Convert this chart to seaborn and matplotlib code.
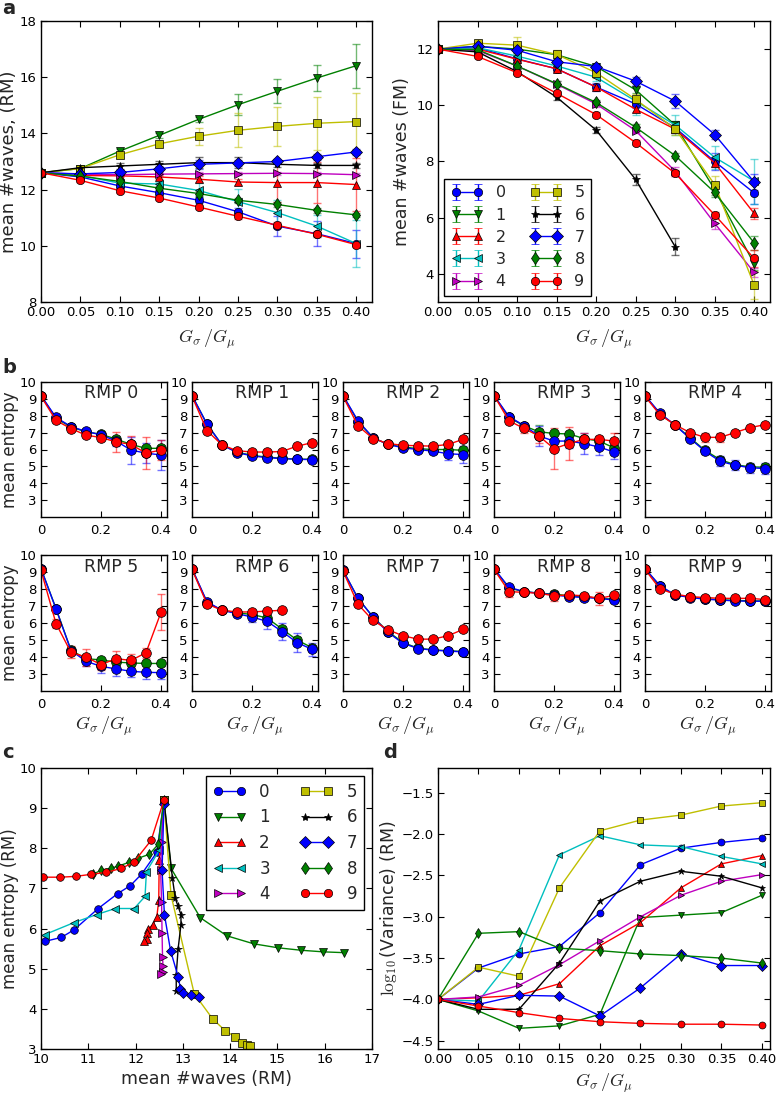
import matplotlib
matplotlib.use("Agg")
import matplotlib.pyplot as plt
from matplotlib.lines import Line2D
import seaborn as sns
import numpy as np
import pandas as pd

# x axis shared by panels a, b, d
G = [0.0, 0.05, 0.10, 0.15, 0.20, 0.25, 0.30, 0.35, 0.40]
NAMES = [str(i) for i in range(10)]

# panel a (left): mean #waves, RM ; one row per RMP 0..9
waves_rm = [
    [12.6, 12.45, 12.13, 11.89, 11.62, 11.21, 10.70, 10.43, 10.08],
    [12.6, 12.75, 13.37, 13.93, 14.50, 15.02, 15.50, 15.97, 16.41],
    [12.6, 12.50, 12.49, 12.45, 12.37, 12.27, 12.25, 12.25, 12.18],
    [12.6, 12.50, 12.23, 12.20, 11.97, 11.57, 11.18, 10.70, 10.08],
    [12.6, 12.55, 12.53, 12.55, 12.56, 12.57, 12.58, 12.57, 12.53],
    [12.6, 12.75, 13.24, 13.63, 13.90, 14.11, 14.25, 14.36, 14.42],
    [12.6, 12.78, 12.84, 12.90, 12.96, 12.96, 12.90, 12.86, 12.86],
    [12.6, 12.56, 12.61, 12.74, 12.90, 12.95, 13.00, 13.17, 13.34],
    [12.6, 12.48, 12.29, 12.05, 11.86, 11.62, 11.47, 11.26, 11.10],
    [12.6, 12.33, 11.96, 11.70, 11.38, 11.05, 10.73, 10.41, 10.04],
]
waves_rm_err = [
    [0, 0.05, 0.08, 0.08, 0.10, 0.12, 0.35, 0.45, 0.50],
    [0, 0.05, 0.08, 0.10, 0.10, 0.38, 0.42, 0.45, 0.78],
    [0, 0.05, 0.05, 0.08, 0.10, 0.10, 0.70, 0.72, 0.95],
    [0, 0.05, 0.05, 0.08, 0.25, 0.45, 0.45, 0.40, 0.85],
    [0, 0.05, 0.05, 0.05, 0.05, 0.05, 0.05, 0.05, 0.05],
    [0, 0.05, 0.10, 0.10, 0.30, 0.60, 0.70, 0.95, 1.00],
    [0, 0.05, 0.10, 0.10, 0.20, 0.20, 0.10, 0.10, 0.10],
    [0, 0.05, 0.10, 0.10, 0.15, 0.10, 0.10, 0.10, 0.10],
    [0, 0.05, 0.05, 0.05, 0.08, 0.08, 0.08, 0.08, 0.08],
    [0, 0.05, 0.08, 0.08, 0.08, 0.10, 0.10, 0.10, 0.10],
]

# panel a (right): mean #waves, FM
waves_fm = [
    [12.0, 12.05, 11.65, 11.30, 10.65, 10.05, 9.20, 8.00, 6.88],
    [12.0, 12.10, 12.00, 11.80, 11.38, 10.55, 9.30, 7.00, 4.35],
    [12.0, 12.00, 11.64, 11.30, 10.65, 9.86, 9.15, 7.95, 6.15],
    [12.0, 12.05, 11.75, 11.40, 11.00, 10.15, 9.30, 8.15, 7.30],
    [12.0, 11.95, 11.40, 10.75, 10.05, 9.10, 7.65, 5.80, 4.05],
    [12.0, 12.21, 12.14, 11.81, 11.16, 10.21, 9.16, 7.18, 3.60],
    [12.0, 11.90, 11.20, 10.29, 9.12, 7.36, 4.97, np.nan, np.nan],
    [12.0, 12.10, 11.96, 11.55, 11.38, 10.86, 10.15, 8.96, 7.27],
    [12.0, 11.98, 11.40, 10.77, 10.10, 9.22, 8.21, 6.90, 5.10],
    [12.0, 11.74, 11.16, 10.43, 9.67, 8.67, 7.58, 6.10, 4.55],
]
waves_fm_err = [
    [0, 0.05, 0.10, 0.10, 0.15, 0.15, 0.20, 0.30, 0.40],
    [0, 0.05, 0.10, 0.10, 0.10, 0.10, 0.15, 0.20, 0.20],
    [0, 0.05, 0.10, 0.10, 0.10, 0.10, 0.15, 0.15, 0.20],
    [0, 0.05, 0.10, 0.10, 0.15, 0.50, 0.35, 0.40, 0.80],
    [0, 0.05, 0.10, 0.10, 0.10, 0.10, 0.15, 0.20, 0.15],
    [0, 0.10, 0.30, 0.15, 0.20, 0.20, 0.20, 0.30, 0.50],
    [0, 0.05, 0.10, 0.10, 0.10, 0.20, 0.30, np.nan, np.nan],
    [0, 0.05, 0.10, 0.10, 0.10, 0.15, 0.25, 0.15, 0.30],
    [0, 0.05, 0.10, 0.10, 0.10, 0.10, 0.10, 0.15, 0.25],
    [0, 0.05, 0.05, 0.08, 0.08, 0.08, 0.10, 0.10, 0.30],
]

# panel b: mean entropy per RMP, three conditions (blue / green / red)
ent_blue = [
    [9.2, 7.90, 7.36, 7.07, 6.87, 6.50, 5.97, 5.78, 5.68],
    [9.2, 7.50, 6.27, 5.82, 5.62, 5.52, 5.46, 5.42, 5.40],
    [9.2, 7.70, 6.70, 6.30, 6.10, 6.00, 5.90, 5.75, 5.70],
    [9.2, 7.95, 7.42, 6.80, 6.50, 6.50, 6.35, 6.15, 5.85],
    [9.2, 8.15, 7.45, 6.65, 5.90, 5.30, 5.07, 4.92, 4.87],
    [9.2, 6.83, 4.38, 3.75, 3.45, 3.30, 3.16, 3.10, 3.08],
    [9.2, 7.25, 6.75, 6.55, 6.35, 6.10, 5.50, 4.85, 4.45],
    [9.1, 7.45, 6.35, 5.45, 4.80, 4.50, 4.40, 4.35, 4.30],
    [9.2, 8.10, 7.85, 7.75, 7.65, 7.55, 7.50, 7.45, 7.35],
    [9.2, 8.20, 7.65, 7.50, 7.40, 7.35, 7.30, 7.28, 7.28],
]
ent_green = [
    [9.2, 7.85, 7.33, 7.05, 6.90, 6.62, 6.30, 6.07, 6.07],
    [9.2, 7.50, 6.27, 5.85, 5.65, 5.55, 5.48, 5.43, 5.42],
    [9.2, 7.65, 6.70, 6.30, 6.15, 6.05, 6.00, 6.00, 5.95],
    [9.2, 7.90, 7.40, 7.05, 6.95, 6.92, 6.65, 6.50, 6.10],
    [9.2, 8.10, 7.45, 6.70, 5.95, 5.40, 5.10, 4.97, 4.95],
    [9.2, 6.85, 4.40, 3.90, 3.83, 3.70, 3.65, 3.62, 3.62],
    [9.2, 7.20, 6.75, 6.60, 6.50, 6.30, 5.65, 5.00, 4.55],
    [9.1, 7.45, 6.35, 5.50, 4.85, 4.52, 4.42, 4.37, 4.32],
    [9.2, 8.05, 7.85, 7.75, 7.70, 7.60, 7.55, 7.45, 7.40],
    [9.2, 8.15, 7.65, 7.52, 7.42, 7.37, 7.33, 7.30, 7.30],
]
ent_red = [
    [9.15, 7.72, 7.24, 6.85, 6.71, 6.45, 6.30, 5.78, 5.97],
    [9.15, 7.12, 6.27, 5.93, 5.85, 5.85, 5.88, 6.20, 6.40],
    [9.15, 7.40, 6.65, 6.35, 6.25, 6.22, 6.20, 6.30, 6.60],
    [9.20, 7.70, 7.25, 6.80, 6.05, 6.35, 6.60, 6.60, 6.50],
    [9.15, 8.05, 7.47, 7.00, 6.72, 6.72, 7.00, 7.30, 7.47],
    [9.10, 5.97, 4.27, 4.00, 3.55, 3.90, 3.80, 4.25, 6.63],
    [9.15, 7.12, 6.75, 6.65, 6.65, 6.70, 6.75, np.nan, np.nan],
    [9.05, 7.10, 6.15, 5.60, 5.25, 5.05, 5.05, 5.25, 5.62],
    [9.15, 7.85, 7.80, 7.75, 7.60, 7.65, 7.60, 7.45, 7.62],
    [9.15, 8.00, 7.70, 7.55, 7.50, 7.45, 7.45, 7.45, 7.38],
]
ent_blue_err = [
    [0, 0.05, 0.05, 0.05, 0.10, 0.30, 0.80, 0.60, 0.90],
    [0, 0.05, 0.05, 0.05, 0.05, 0.05, 0.05, 0.10, 0.15],
    [0, 0.05, 0.05, 0.05, 0.10, 0.10, 0.15, 0.35, 0.50],
    [0, 0.05, 0.10, 0.60, 0.40, 0.40, 0.60, 0.50, 0.40],
    [0, 0.05, 0.05, 0.10, 0.15, 0.30, 0.30, 0.30, 0.35],
    [0, 0.10, 0.10, 0.30, 0.40, 0.40, 0.35, 0.40, 0.40],
    [0, 0.05, 0.05, 0.10, 0.30, 0.45, 0.50, 0.55, 0.40],
    [0, 0.05, 0.05, 0.05, 0.05, 0.05, 0.05, 0.05, 0.05],
    [0, 0.05, 0.05, 0.05, 0.05, 0.05, 0.05, 0.05, 0.05],
    [0, 0.05, 0.05, 0.05, 0.05, 0.05, 0.05, 0.05, 0.05],
]
ent_green_err = [
    [0, 0.05, 0.05, 0.05, 0.05, 0.10, 0.10, 0.10, 0.10],
    [0, 0.05, 0.05, 0.05, 0.05, 0.05, 0.05, 0.05, 0.05],
    [0, 0.05, 0.05, 0.05, 0.05, 0.05, 0.05, 0.10, 0.10],
    [0, 0.05, 0.05, 0.40, 0.10, 0.10, 0.10, 0.10, 0.10],
    [0, 0.05, 0.05, 0.05, 0.05, 0.10, 0.10, 0.10, 0.10],
    [0, 0.05, 0.05, 0.05, 0.05, 0.05, 0.05, 0.05, 0.05],
    [0, 0.05, 0.05, 0.05, 0.10, 0.10, 0.15, 0.15, 0.15],
    [0, 0.05, 0.05, 0.05, 0.05, 0.05, 0.05, 0.05, 0.05],
    [0, 0.05, 0.05, 0.05, 0.05, 0.05, 0.05, 0.05, 0.05],
    [0, 0.05, 0.05, 0.05, 0.05, 0.05, 0.05, 0.05, 0.05],
]
ent_red_err = [
    [0, 0.10, 0.10, 0.10, 0.10, 0.60, 0.50, 0.95, 0.60],
    [0, 0.05, 0.05, 0.05, 0.05, 0.05, 0.05, 0.10, 0.10],
    [0, 0.05, 0.05, 0.05, 0.05, 0.05, 0.05, 0.10, 0.10],
    [0, 0.10, 0.30, 0.40, 1.20, 1.00, 0.40, 0.20, 0.50],
    [0, 0.10, 0.10, 0.10, 0.25, 0.25, 0.10, 0.10, 0.10],
    [0, 0.25, 0.35, 0.50, 0.30, 0.45, 0.40, 0.30, 1.05],
    [0, 0.05, 0.05, 0.05, 0.05, 0.05, 0.05, np.nan, np.nan],
    [0, 0.05, 0.05, 0.05, 0.05, 0.05, 0.05, 0.05, 0.05],
    [0, 0.30, 0.10, 0.10, 0.30, 0.10, 0.10, 0.40, 0.10],
    [0, 0.10, 0.05, 0.05, 0.05, 0.05, 0.05, 0.10, 0.10],
]

# panel d: log10(variance), RM
log_var = [
    [-4.0, -3.62, -3.45, -3.36, -2.95, -2.37, -2.17, -2.10, -2.05],
    [-4.0, -4.14, -4.35, -4.32, -4.18, -3.01, -2.98, -2.95, -2.74],
    [-4.0, -3.98, -3.95, -3.81, -3.35, -3.07, -2.65, -2.36, -2.26],
    [-4.0, -4.02, -3.40, -2.25, -2.02, -2.13, -2.15, -2.27, -2.36],
    [-4.0, -3.97, -3.83, -3.58, -3.29, -3.00, -2.74, -2.57, -2.49],
    [-4.0, -3.61, -3.72, -2.65, -1.96, -1.83, -1.77, -1.66, -1.62],
    [-4.0, -4.12, -4.12, -3.56, -2.81, -2.57, -2.45, -2.51, -2.65],
    [-4.0, -4.06, -3.95, -3.96, -4.20, -3.86, -3.45, -3.59, -3.59],
    [-4.0, -3.20, -3.18, -3.38, -3.41, -3.45, -3.47, -3.50, -3.56],
    [-4.0, -4.08, -4.16, -4.23, -4.27, -4.29, -4.30, -4.30, -4.31],
]

# styles (classic matplotlib look)
COLORS = ["#0000ff", "#008000", "#ff0000", "#00bfbf", "#bf00bf",
          "#bfbf00", "#000000", "#0000ff", "#008000", "#ff0000"]
MARKERS = ["o", "v", "^", "<", ">", "s", "*", "D", "d", "o"]
# green drawn first so blue sits on top of it, red last
B_NAMES = ["green", "blue", "red"]
B_COLORS = ["#008000", "#0000ff", "#ff0000"]

sns.set_style("ticks")
plt.rcParams.update({
    "font.family": ["DejaVu Sans"],
    "mathtext.fontset": "cm",
    "axes.edgecolor": "k",
    "axes.linewidth": 1.0,
    "xtick.color": "k", "ytick.color": "k",
    "xtick.direction": "in", "ytick.direction": "in",
    "xtick.top": True, "ytick.right": True,
    "xtick.major.size": 4, "ytick.major.size": 4,
    "xtick.major.pad": 3, "ytick.major.pad": 3,
    "xtick.labelsize": 9.5, "ytick.labelsize": 9.5,
    "legend.fancybox": False, "legend.edgecolor": "k",
    "legend.framealpha": 1.0,
})

W, H = 777, 1095
fig = plt.figure(figsize=(W / 100, H / 100), dpi=100)


def box(l, t, r, b):
    return [l / W, 1 - b / H, (r - l) / W, (b - t) / H]


def long_df(xrows, yrows, names):
    recs = []
    for n, xr, yr in zip(names, xrows, yrows):
        for xv, yv in zip(xr, yr):
            recs.append((xv, yv, n))
    return pd.DataFrame(recs, columns=["x", "y", "s"]).dropna()


def draw_lines(ax, df, names, colors, markers, ms):
    sns.lineplot(data=df, x="x", y="y", hue="s", style="s",
                 hue_order=names, style_order=names,
                 palette=dict(zip(names, colors)),
                 markers=dict(zip(names, markers)), dashes=False,
                 sort=False, estimator=None, legend=False, ax=ax,
                 markersize=ms, markeredgecolor="k", markeredgewidth=0.5,
                 linewidth=1)
    ax.set_xlabel("")
    ax.set_ylabel("")


def draw_bars(ax, x, rows, errs, colors):
    for r, e, c in zip(rows, errs, colors):
        ax.errorbar(x, r, yerr=e, fmt="none", ecolor=c, elinewidth=1,
                    capsize=3, capthick=1, alpha=0.55, zorder=1.8)


GLABEL = r"$G_\sigma\,/G_\mu$"

# ---- panel a left
ax = fig.add_axes(box(41, 21, 372, 302))
draw_bars(ax, G, waves_rm, waves_rm_err, COLORS)
draw_lines(ax, long_df([G] * 10, waves_rm, NAMES), NAMES, COLORS, MARKERS, 6)
ax.set_xlim(0, 0.42)
ax.set_ylim(8, 18)
ax.set_xticks(G)
ax.set_yticks([8, 10, 12, 14, 16, 18])
ax.set_ylabel("mean #waves, (RM)", fontsize=13, labelpad=1)
ax.set_xlabel(GLABEL, fontsize=13, labelpad=6)

# ---- panel a right
ax = fig.add_axes(box(438, 21, 770, 302))
draw_bars(ax, G, waves_fm, waves_fm_err, COLORS)
draw_lines(ax, long_df([G] * 10, waves_fm, NAMES), NAMES, COLORS, MARKERS, 6)
handles = []
for c, m in zip(COLORS, MARKERS):
    h = ax.errorbar([np.nan], [np.nan], yerr=[0.1], color=c, marker=m, ms=6,
                    mec="k", mew=0.5, lw=1, capsize=3, ecolor=c)
    handles.append(h)
ax.legend(handles, NAMES, ncol=2, loc="lower left", numpoints=2,
          fontsize=11.5, handlelength=2.0, columnspacing=1.5,
          labelspacing=0.45, borderaxespad=0.4)
ax.set_xlim(0, 0.42)
ax.set_ylim(3, 13)
ax.set_xticks(G)
ax.set_yticks([4, 6, 8, 10, 12])
ax.set_ylabel("mean #waves (FM)", fontsize=12.5, labelpad=4)
ax.set_xlabel(GLABEL, fontsize=13, labelpad=6)

# ---- panel b
cols = [41, 192, 343, 494, 645]
rows = [(382, 517), (555, 691)]
for i in range(10):
    r, cidx = divmod(i, 5)
    t, b = rows[r]
    ax = fig.add_axes(box(cols[cidx], t, cols[cidx] + 126, b))
    ys = [ent_green[i], ent_blue[i], ent_red[i]]
    es = [ent_green_err[i], ent_blue_err[i], ent_red_err[i]]
    draw_bars(ax, G, ys, es, B_COLORS)
    draw_lines(ax, long_df([G] * 3, ys, B_NAMES), B_NAMES, B_COLORS, ["o"] * 3, 7)
    ax.set_xlim(0, 0.42)
    ax.set_ylim(2, 10)
    ax.set_yticks(range(3, 11))
    ax.set_xticks([0, 0.2, 0.4], ["0", "0.2", "0.4"])
    ax.tick_params(axis="x", pad=5)
    ax.text(0.56, 0.915, f"RMP {i}", transform=ax.transAxes,
            ha="center", va="center", fontsize=12.5)
    if cidx == 0:
        ax.set_ylabel("mean entropy", fontsize=12, labelpad=1)
    if r == 1:
        ax.set_xlabel(GLABEL, fontsize=13, labelpad=3)

# ---- panel c
ax = fig.add_axes(box(41, 768, 372, 1049))
draw_lines(ax, long_df(waves_rm, ent_blue, NAMES), NAMES, COLORS, MARKERS, 5.5)
handles = [Line2D([], [], color=c, marker=m, ms=6, mec="k", mew=0.5, lw=1)
           for c, m in zip(COLORS, MARKERS)]
ax.legend(handles, NAMES, ncol=2, loc="upper right", numpoints=2,
          fontsize=12, handlelength=2.0, columnspacing=1.8,
          labelspacing=0.45, borderaxespad=0.5)
ax.set_xlim(10, 17)
ax.set_ylim(3, 10)
ax.set_xticks(range(10, 18))
ax.set_yticks(range(3, 11))
ax.set_xlabel("mean #waves (RM)", fontsize=12.5, labelpad=3)
ax.set_ylabel("mean entropy (RM)", fontsize=12, labelpad=1)

# ---- panel d
ax = fig.add_axes(box(438, 768, 770, 1049))
draw_lines(ax, long_df([G] * 10, log_var, NAMES), NAMES, COLORS, MARKERS, 5)
ax.set_xlim(0, 0.41)
ax.set_ylim(-4.6, -1.2)
ax.set_xticks(G)
ax.set_yticks([-4.5, -4.0, -3.5, -3.0, -2.5, -2.0, -1.5])
ax.set_ylabel(r"$\log_{10}$(Variance) (RM)", fontsize=12.5, labelpad=2)
ax.set_xlabel(GLABEL, fontsize=13, labelpad=4)

# panel letters
for letter, x, y in [("a", 2, 14), ("b", 2, 373), ("c", 2, 758), ("d", 383, 758)]:
    fig.text(x / W, 1 - y / H, letter, fontsize=14, fontweight="bold",
             va="baseline", ha="left")

fig.savefig("out.png", dpi=100)
